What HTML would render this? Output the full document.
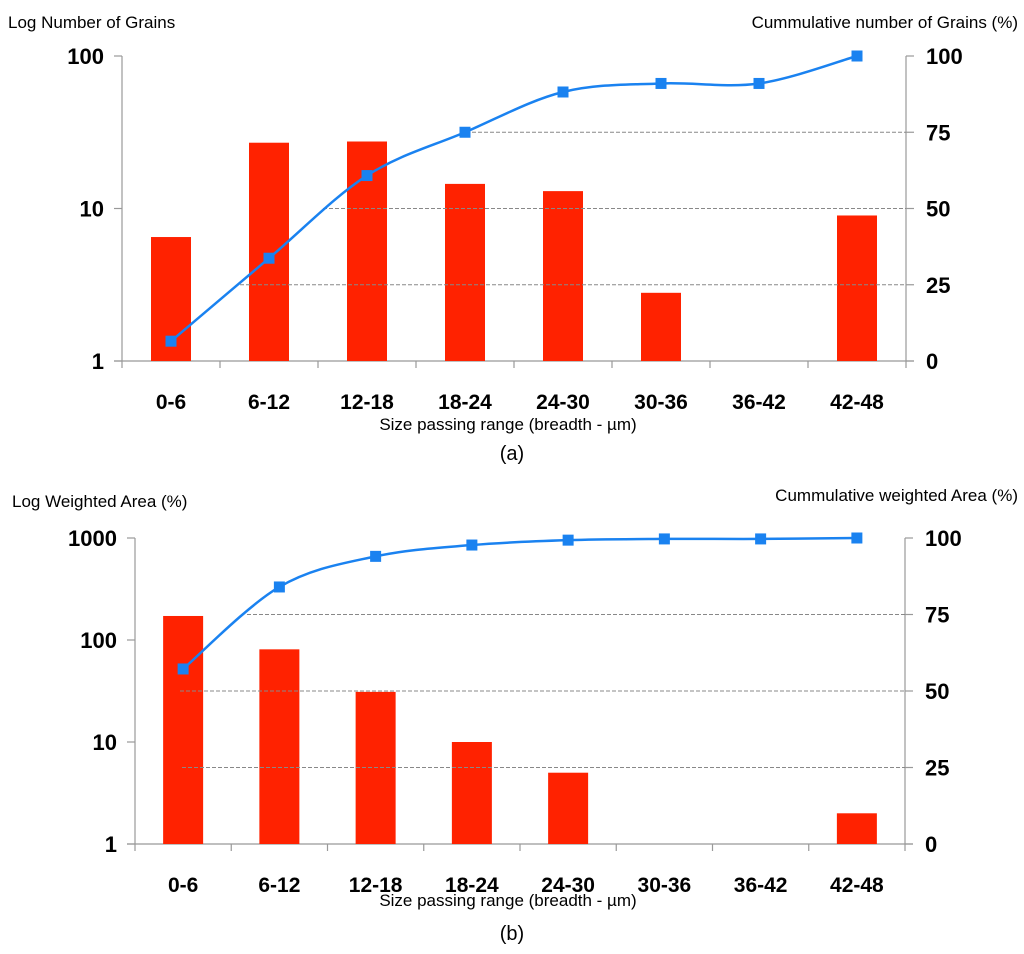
<!DOCTYPE html>
<html><head><meta charset="utf-8"><style>
body{margin:0;background:#fff;width:1024px;height:949px;overflow:hidden}
svg text{font-family:"Liberation Sans",sans-serif}
</style></head><body>
<svg id="s" width="1024" height="949"></svg>
<script>
const categories=["0-6","6-12","12-18","18-24","24-30","30-36","36-42","42-48"];
const grainsCount=[6.5,27,27.5,14.5,13,2.8,null,9];
const grainsCum=[6.5,33.7,60.8,75,88.2,91,91,100];
const areaWeighted=[172,81,31,10,5,null,null,2];
const areaCum=[57.2,84,94,97.7,99.3,99.7,99.7,100];
const ticksA=["1","10","100"];
const ticksB=["1","10","100","1000"];
const ticksR=["0","25","50","75","100"];
const NS="http://www.w3.org/2000/svg";
const svg=document.getElementById('s');
function mk(t,a,p){const e=document.createElementNS(NS,t);for(const k in a)e.setAttribute(k,a[k]);(p||svg).appendChild(e);return e;}
function txt(x,y,s,sz,w,anc,name){const e=mk('text',{x:x,y:y,'font-size':sz,'font-weight':w,'text-anchor':anc,fill:'#000'});e.textContent=s;

return e;}
function chart(cfg){
 const g=mk('g',{});
 
 
 const L=cfg.left,R=cfg.right,T=cfg.top,B=cfg.bottom,n=categories.length,step=(R-L)/n;
 const decades=cfg.ticks.length-1;
 const yL=v=>B-(Math.log10(v)/decades)*(B-T);
 const yR=v=>B-v/100*(B-T);
 const xC=i=>L+step*(i+0.5);
 mk('line',{x1:L,y1:T,x2:L,y2:B,stroke:'#999','stroke-width':1.2},g);
 mk('line',{x1:R,y1:T,x2:R,y2:B,stroke:'#999','stroke-width':1.2},g);
 mk('line',{x1:L-8,y1:B,x2:R+8,y2:B,stroke:'#999','stroke-width':1.2},g);
 for(let i=0;i<=n;i++)mk('line',{x1:L+step*i,y1:B,x2:L+step*i,y2:B+7,stroke:'#999','stroke-width':1.2},g);
 cfg.ticks.forEach((t,i)=>{const y=yL(Math.pow(10,i));mk('line',{x1:L-8,y1:y,x2:L,y2:y,stroke:'#999','stroke-width':1.2},g);
  txt(L-18,y+8,t,22,'bold','end','left-tick-'+t);});
 ticksR.forEach(t=>{const y=yR(+t);mk('line',{x1:R,y1:y,x2:R+8,y2:y,stroke:'#999','stroke-width':1.2},g);
  txt(R+20,y+8,t,22,'bold','start','right-tick-'+t);});
 cfg.bars.forEach((v,i)=>{if(v==null)return;const b=mk('rect',{x:xC(i)-20,y:yL(v),width:40,height:B-yL(v),fill:'#ff2200'},g);
  
  });
 [25,50,75].forEach((v,k)=>{const l=mk('line',{x1:cfg.gridStart[k],y1:yR(v),x2:R,y2:yR(v),stroke:'#888','stroke-width':1,'stroke-dasharray':'4,2'},g);
  
  });
 categories.forEach((c,i)=>txt(xC(i),B+48,c,21,'bold','middle','category-'+c));
 const pts=cfg.cum.map((v,i)=>[xC(i),yR(v)]);
 let d='M'+pts[0][0]+','+pts[0][1];
 for(let i=0;i<pts.length-1;i++){const p0=pts[Math.max(i-1,0)],p1=pts[i],p2=pts[i+1],p3=pts[Math.min(i+2,pts.length-1)];
  const c1=[p1[0]+(p2[0]-p0[0])/6,p1[1]+(p2[1]-p0[1])/6],c2=[p2[0]-(p3[0]-p1[0])/6,p2[1]-(p3[1]-p1[1])/6];
  d+=' C'+c1+' '+c2+' '+p2;}
 const ln=mk('path',{d:d,fill:'none',stroke:'#1a82f0','stroke-width':2.5},g);
 
 
 pts.forEach((p,i)=>{const m=mk('rect',{x:p[0]-5.5,y:p[1]-5.5,width:11,height:11,fill:'#1a82f0'},g);
  
  });
}
chart({name:'chart-a',left:122,right:906,top:56,bottom:361,ticks:ticksA,bars:grainsCount,cum:grainsCum,gridStart:[240,323,460]});
chart({name:'chart-b',left:135,right:905,top:538,bottom:844,ticks:ticksB,bars:areaWeighted,cum:areaCum,gridStart:[182,180,247]});
txt(8,28,'Log Number of Grains',17,'normal','start','y-axis-title-a');
txt(1018,28,'Cummulative number of Grains (%)',17,'normal','end','y2-axis-title-a');
txt(508,430,'Size passing range (breadth - µm)',17,'normal','middle','x-axis-title-a');
txt(512,460,'(a)',20,'normal','middle','caption-a');
txt(12,507,'Log Weighted Area (%)',17,'normal','start','y-axis-title-b');
txt(1018,501,'Cummulative weighted Area (%)',17,'normal','end','y2-axis-title-b');
txt(508,906,'Size passing range (breadth - µm)',17,'normal','middle','x-axis-title-b');
txt(512,940,'(b)',20,'normal','middle','caption-b');
</script>
</body></html>
